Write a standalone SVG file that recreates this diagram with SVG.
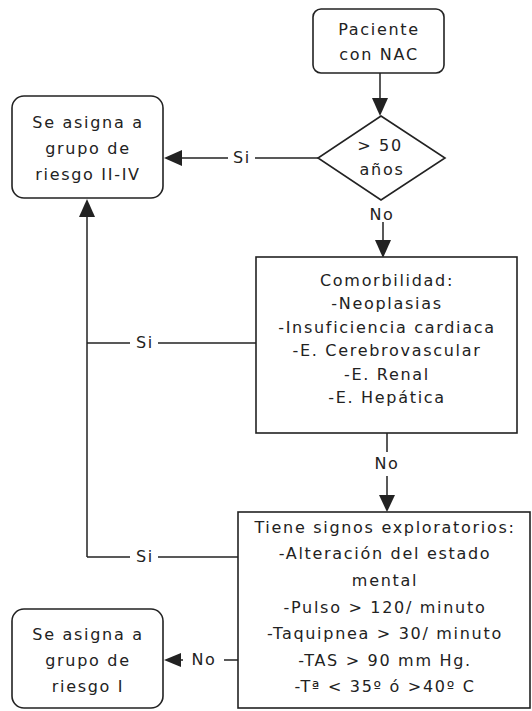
<svg xmlns="http://www.w3.org/2000/svg" width="532" height="711" viewBox="0 0 532 711">
<style>
.box{fill:#fff;stroke:#222;stroke-width:1.6}
.t{font-family:"DejaVu Sans",Verdana,sans-serif;font-size:16px;letter-spacing:1.7px;fill:#222;text-anchor:middle}
.ln{stroke:#222;stroke-width:1.5;fill:none}
.ah{fill:#222}
</style>
<rect width="532" height="711" fill="#fff"/>
<g id="connectors">
<line class="ln" x1="380" y1="73" x2="380" y2="100"/>
<polygon class="ah" points="372,98 388,98 380,116"/>
<line class="ln" x1="318" y1="158" x2="255" y2="158"/>
<line class="ln" x1="228" y1="158" x2="180" y2="158"/>
<polygon class="ah" points="182,150 182,166 164,158"/>
<text class="t" x="242" y="163">Si</text>
<line class="ln" x1="383" y1="222" x2="383" y2="242"/>
<polygon class="ah" points="375,240 391,240 383,258"/>
<text class="t" x="382" y="220">No</text>
<line class="ln" x1="387" y1="433" x2="387" y2="452"/>
<text class="t" x="387" y="469">No</text>
<line class="ln" x1="387" y1="476" x2="387" y2="496"/>
<polygon class="ah" points="379,495 395,495 387,512"/>
<line class="ln" x1="87" y1="557" x2="87" y2="216"/>
<polygon class="ah" points="79,217 95,217 87,199"/>
<line class="ln" x1="87" y1="343" x2="130" y2="343"/>
<line class="ln" x1="158" y1="343" x2="256" y2="343"/>
<text class="t" x="145" y="348">Si</text>
<line class="ln" x1="87" y1="557" x2="130" y2="557"/>
<line class="ln" x1="158" y1="557" x2="238" y2="557"/>
<text class="t" x="145" y="562">Si</text>
<line class="ln" x1="238" y1="660" x2="224" y2="660"/>
<line class="ln" x1="183" y1="660" x2="178" y2="660"/>
<polygon class="ah" points="181,653 181,667 164,660"/>
<text class="t" x="204" y="665">No</text>
</g>
<g id="start">
<rect class="box" x="313" y="9" width="131" height="64" rx="8"/>
<text class="t" x="379" y="35">Paciente</text>
<text class="t" x="379" y="60">con NAC</text>
</g>
<g id="age">
<polygon class="box" points="381,116 445,158 381,200 318,158"/>
<text class="t" x="380" y="151">&gt; 50</text>
<text class="t" x="382" y="175">años</text>
</g>
<g id="group2">
<rect class="box" x="12" y="96" width="151" height="102" rx="12"/>
<text class="t" x="88" y="128">Se asigna a</text>
<text class="t" x="88" y="154">grupo de</text>
<text class="t" x="88" y="180">riesgo II-IV</text>
</g>
<g id="comorb">
<rect class="box" x="256" y="257" width="261" height="176"/>
<text class="t" x="387" y="286">Comorbilidad:</text>
<text class="t" x="387" y="309">-Neoplasias</text>
<text class="t" x="387" y="333">-Insuficiencia cardiaca</text>
<text class="t" x="387" y="356">-E. Cerebrovascular</text>
<text class="t" x="387" y="380">-E. Renal</text>
<text class="t" x="387" y="403">-E. Hepática</text>
</g>
<g id="signs">
<rect class="box" x="238" y="512" width="292" height="196"/>
<text class="t" x="385" y="533">Tiene signos exploratorios:</text>
<text class="t" x="385" y="559">-Alteración del estado</text>
<text class="t" x="385" y="586">mental</text>
<text class="t" x="385" y="613">-Pulso &gt; 120/ minuto</text>
<text class="t" x="385" y="639">-Taquipnea &gt; 30/ minuto</text>
<text class="t" x="385" y="666">-TAS &gt; 90 mm Hg.</text>
<text class="t" x="385" y="692">-Tª &lt; 35º ó &gt;40º C</text>
</g>
<g id="group1">
<rect class="box" x="12" y="609" width="151" height="99" rx="12"/>
<text class="t" x="88" y="640">Se asigna a</text>
<text class="t" x="88" y="666">grupo de</text>
<text class="t" x="88" y="692">riesgo I</text>
</g>
</svg>
